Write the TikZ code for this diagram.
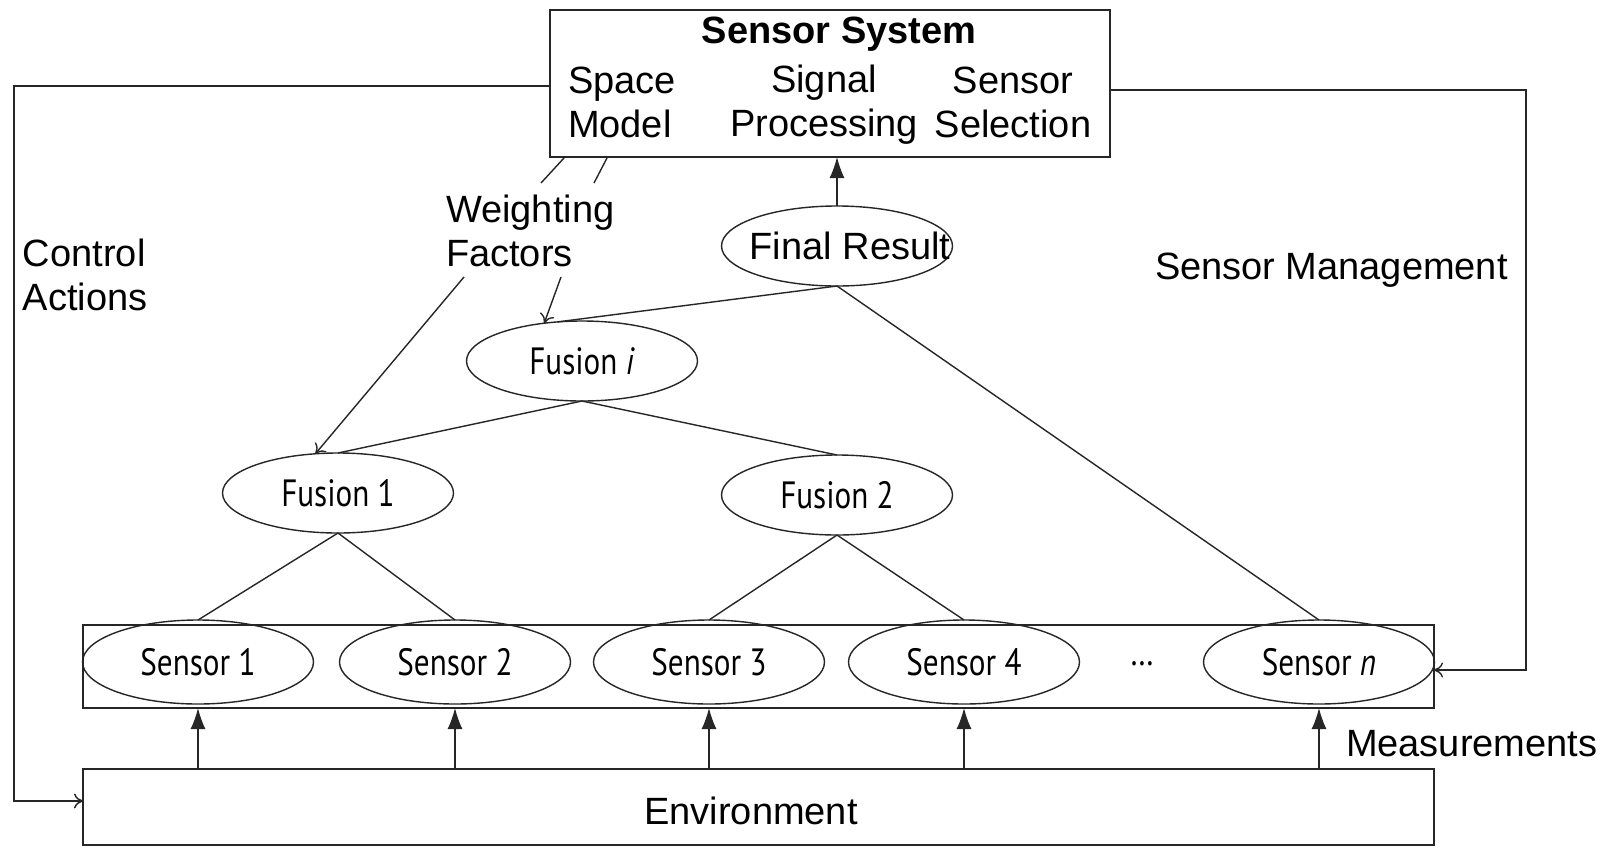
\documentclass[tikz,border=0pt]{standalone}
\usepackage{fontspec}
\setmainfont{Liberation Sans}
\newfontfamily\condfont[FakeStretch=0.82]{PT Sans}
\usetikzlibrary{arrows.meta,shapes.geometric}
\begin{document}
\begin{tikzpicture}[x=1pt,y=-1pt,
  every node/.style={font=\fontsize{38}{44}\selectfont, inner sep=0pt, outer sep=0pt},
  line/.style={line width=1.4pt, draw=black!85},
  ell/.style={ellipse, draw=black!85, line width=1.4pt, minimum width=231pt, minimum height=80pt,
    font=\condfont\fontsize{38}{44}\selectfont},
  sens/.style={ell, minimum height=84pt},
  box/.style={draw=black!85, line width=1.4pt, rectangle},
  bigarrow/.style={-{Latex[length=21pt,width=15pt]}},
  smallarrow/.style={-{To[length=9pt,width=15pt]}},
  lbl/.style={align=left}
]
\useasboundingbox (0,0) rectangle (1620,847);
\fill[white] (0,0) rectangle (1620,847);

% Sensor system box
\node[box, minimum width=560pt, minimum height=147pt] (ss) at (830,83.5) {};
\node[font=\bfseries\fontsize{38}{44}\selectfont] (sst) at (839,34) {Sensor System};
\node[lbl, anchor=west] (sm) at (568,102) {Space\\Model};
\node[align=center] (sp) at (824,105) {Signal\\Processing};
\node[align=center] (sel) at (1013,102) {Sensor\\Selection};

% Environment and sensor boxes
\node[box, minimum width=1351pt, minimum height=83pt] (sbox) at (758.5,666.5) {};
\node[box, minimum width=1351pt, minimum height=76pt] (env) at (758.5,807) {};
\node (envt) at (751,811) {Environment};

% Sensors
\node[sens] (s1) at (198,662) {Sensor 1};
\node[sens] (s2) at (455,662) {Sensor 2};
\node[sens] (s3) at (709,662) {Sensor 3};
\node[sens] (s4) at (964,662) {Sensor 4};
\node[sens] (sn) at (1319,662) {Sensor \textit{n}};
\node[font=\condfont\fontsize{38}{44}\selectfont] (dots) at (1142,664) {\dots};

% Fusion nodes
\node[ell] (f1) at (338,493) {Fusion 1};
\node[ell] (f2) at (837,495) {Fusion 2};
\node[ell] (fi) at (582,361) {Fusion \textit{i}};
\node[ell] (fr) at (837,246) {};
\node (frt) at (850,246) {Final Result};

% Labels
\node[lbl, anchor=west] (wf) at (446,231) {Weighting\\Factors};
\node[lbl, anchor=west] (ca) at (23,275) {Control\\Actions};
\node[anchor=west] (smg) at (1155,270) {Sensor Management};
\node[anchor=west] (meas) at (1346,744) {Measurements};

% Tree connections
\draw[line] (fr.south) -- (fi.122);
\draw[line] (fi.south) -- (f1.north);
\draw[line] (fi.south) -- (f2.north);
\draw[line] (fr.south) -- (sn.north);
\draw[line] (f1.south) -- (s1.north);
\draw[line] (f1.south) -- (s2.north);
\draw[line] (f2.south) -- (s3.north);
\draw[line] (f2.south) -- (s4.north);
\draw[line, bigarrow] (fr.north) -- (ss.south -| fr.north);

% Measurements arrows
\foreach \s in {s1,s2,s3,s4,sn}{
  \draw[line, bigarrow] (env.north -| \s.south) -- (sbox.south -| \s.south);
}

% Weighting factors connectors
\coordinate (wa) at (564,158);
\coordinate (wb) at (541,183);
\coordinate (wc) at (607,158);
\coordinate (wd) at (594,183);
\coordinate (we) at (464,277);
\coordinate (wg) at (561,277);
\draw[line] (wa) -- (wb);
\draw[line] (wc) -- (wd);
\draw[line, smallarrow] (we) -- (f1.120);
\draw[line, smallarrow] (wg) -- (fi.135);

% Feedback loops
\coordinate (cl) at (14,86);
\coordinate (cr) at (1526,90);
\draw[line, smallarrow] ([yshift=-2.5pt]ss.west) -- (cl) |- ([yshift=6pt]env.west);
\draw[line, smallarrow] ([yshift=-6.5pt]ss.east) -- (cr) |- ([yshift=-3.5pt]sbox.east);
\end{tikzpicture}
\end{document}
